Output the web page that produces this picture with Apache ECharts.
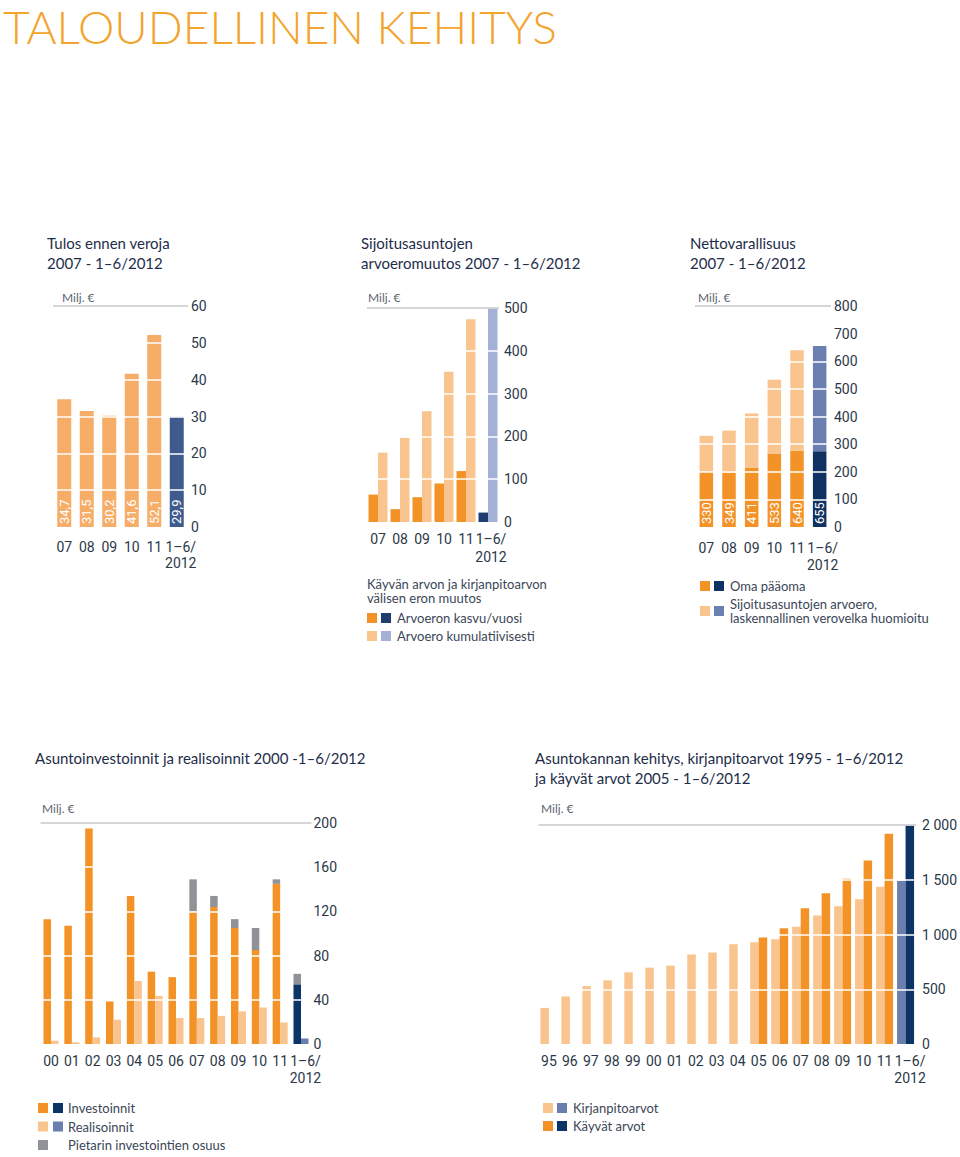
<!DOCTYPE html>
<html><head><meta charset="utf-8">
<script src="https://cdn.jsdelivr.net/npm/echarts@6/dist/echarts.min.js"></script>
<style>html,body{margin:0;padding:0;background:#fff}#c{width:960px;height:1157px}</style>
</head><body><div id="c"></div>
<script>
// ---------- DATA ----------
const cats6 = ['07','08','09','10','11','1–6/\n2012'];
const tulos = [34.7, 31.5, 30.2, 41.6, 52.1, 29.9];
const arvoeroKasvu = [64, 30, 58, 90, 119, 22];
const arvoeroKum = [162, 197, 259, 351, 474, 498];
const omaPaaoma = [200, 197, 214, 266, 276, 274];
const sijoitusArvoero = [130, 152, 197, 267, 364, 381];
const nettoLabels = ['330','349','411','533','640','655'];
const cats13 = ['00','01','02','03','04','05','06','07','08','09','10','11','1–6/\n2012'];
const investoinnit = [113, 107, 195, 38.5, 134, 65.5, 60.5, 120, 124, 105, 85, 145, 54];
const pietari = [null, null, null, null, null, null, null, 29, 10, 8, 20, 4, 9.5];
const realisoinnit = [3, 1.5, 6, 22, 57, 43.5, 23.5, 23.5, 25.5, 29.5, 33, 19.5, 5];
const cats18 = ['95','96','97','98','99','00','01','02','03','04','05','06','07','08','09','10','11','1–6/\n2012'];
const kirjanpito = [330, 434, 529, 581, 654, 697, 716, 817, 835, 911, 930, 957, 1070, 1174, 1257, 1321, 1437, 1492];
const kayvat = [null, null, null, null, null, null, null, null, null, null, 972, 1058, 1239, 1376, 1508, 1676, 1920, 1994];

// ---------- STYLE ----------
const ORANGE = '#f39226', LIGHT = '#f9c48e', NAVY = '#0d3466', BLUE = '#6a7fae', GREY = '#8f9398';
const TXT = '#2b3848';
const FONT = 'Roboto';
const AXFS = 14;
const HFONT = 'Lato';

function lastColored(arr, color) {
  return arr.map((v, i) => i === arr.length - 1 ? {value: v, itemStyle: {color}} : v);
}
function splitColors(n) {
  const c = ['rgba(0,0,0,0)'];
  for (let i = 1; i < n - 1; i++) c.push('#ffffff');
  c.push('#c9c9c9');
  return c;
}
function yAx(idx, max, interval, margin, fmt) {
  return {
    gridIndex: idx, type: 'value', position: 'right', min: 0, max, interval, z: 5,
    axisLine: {show: false}, axisTick: {show: false},
    axisLabel: {margin, color: TXT, fontSize: AXFS, fontFamily: FONT, formatter: fmt},
    splitLine: {show: true, lineStyle: {color: splitColors(max / interval + 1), width: 1.5}}
  };
}
function xAx(idx, cats, margin, lh, shift) {
  const data = cats.map((c, i) => i === cats.length - 1 ? {value: c, textStyle: {padding: [0, 0, 0, shift]}} : c);
  return {
    gridIndex: idx, type: 'category', data,
    axisLine: {show: false}, axisTick: {show: false},
    axisLabel: {interval: 0, margin, color: TXT, fontSize: AXFS, fontFamily: FONT, lineHeight: lh}
  };
}
function legend(data, left, top, gap, lh, extra) {
  return Object.assign({
    data, left, top, orient: 'vertical', itemWidth: 10, itemHeight: 10, itemGap: gap, padding: 0,
    icon: 'rect', selectedMode: false,
    textStyle: {color: '#3a4656', fontSize: 13, fontFamily: HFONT, lineHeight: lh, padding: [0, 0, 0, 15]}
  }, extra || {});
}
function hText(x, y, text, size, color, lh) {
  return {type: 'text', left: x, top: y, style: {text, fill: color, font: size + 'px ' + HFONT, lineHeight: lh || size + 2}};
}
function sq(x, y, color) {
  return {type: 'rect', left: x, top: y, shape: {width: 10, height: 10}, style: {fill: color}};
}

const hStyle = {color: '#1e2d4a', fontSize: 15, fontFamily: HFONT, fontWeight: 'normal', lineHeight: 20};

const chart = echarts.init(document.getElementById('c'), null, {renderer: 'svg'});
chart.setOption({
  animation: false,
  backgroundColor: '#fff',
  title: [
    {text: 'TALOUDELLINEN KEHITYS', left: 3, top: 0, padding: 0, textStyle: {color: '#f3a42c', fontSize: 46, lineHeight: 52, fontFamily: HFONT, fontWeight: 300}},
    {text: 'Tulos ennen veroja\n2007 - 1–6/2012', left: 47, top: 233, padding: 0, textStyle: hStyle},
    {text: 'Sijoitusasuntojen\narvoeromuutos 2007 - 1–6/2012', left: 361, top: 233, padding: 0, textStyle: hStyle},
    {text: 'Nettovarallisuus\n2007 - 1–6/2012', left: 690, top: 233, padding: 0, textStyle: hStyle},
    {text: 'Asuntoinvestoinnit ja realisoinnit 2000 -1–6/2012', left: 35, top: 748, padding: 0, textStyle: hStyle},
    {text: 'Asuntokannan kehitys, kirjanpitoarvot 1995 - 1–6/2012\nja käyvät arvot 2005 - 1–6/2012', left: 535, top: 748, padding: 0, textStyle: hStyle}
  ],
  grid: [
    {left: 53, top: 306, width: 135, height: 221},
    {left: 367, top: 308, width: 132, height: 214},
    {left: 695, top: 306, width: 136, height: 221},
    {left: 40.6, top: 823, width: 270.8, height: 221},
    {left: 538.4, top: 825, width: 381.2, height: 219}
  ],
  xAxis: [
    xAx(0, cats6, 12, 16, 8),
    xAx(1, cats6, 8, 18, 6),
    xAx(2, cats6, 12, 17, 6),
    xAx(3, cats13, 8, 17, 9),
    xAx(4, cats18, 8, 17, 9)
  ],
  yAxis: [
    yAx(0, 60, 10, 3),
    yAx(1, 500, 100, 5),
    yAx(2, 800, 100, 3),
    yAx(3, 200, 40, 2),
    yAx(4, 2000, 500, 6, v => v >= 1000 ? String(v).replace(/(\d)(\d{3})$/, '$1 $2') : String(v))
  ],
  legend: [
    legend(['Arvoeron kasvu/vuosi', 'Arvoero kumulatiivisesti'], 367, 611, 4, 14),
    legend(['Oma pääoma', 'Sijoitusasuntojen arvoero,\nlaskennallinen verovelka huomioitu'], 700, 579, 4, 14),
    legend(['Investoinnit', 'Realisoinnit', 'Pietarin investointien osuus'], 38, 1101, 4.5, 14, {height: 60}),
    legend(['Kirjanpitoarvot', 'Käyvät arvot'], 543, 1101, 4, 14)
  ],
  graphic: [
    hText(62, 290, 'Milj. €', 12, '#5d6673'),
    hText(368, 290, 'Milj. €', 12, '#5d6673'),
    hText(698, 290, 'Milj. €', 12, '#5d6673'),
    hText(42, 801, 'Milj. €', 12, '#5d6673'),
    hText(541, 801, 'Milj. €', 12, '#5d6673'),
    hText(367, 577, 'Käyvän arvon ja kirjanpitoarvon\nvälisen eron muutos', 13, '#3a4656', 14),
    sq(381, 613, '#1f3d6e'), sq(381, 631, '#a3b1d5'),
    sq(714, 581, '#0f3263'), sq(714, 606, '#6b80b0'),
    sq(53, 1103, NAVY), sq(53, 1121.5, BLUE),
    sq(557, 1103, BLUE), sq(557, 1121, NAVY)
  ],
  series: [
    {name: 'Tulos ennen veroja', type: 'bar', xAxisIndex: 0, yAxisIndex: 0, barWidth: 14,
     itemStyle: {color: '#f6ad68'}, data: lastColored(tulos, '#3f5b8d'),
     label: {show: true, position: 'insideBottom', rotate: 90, align: 'left', verticalAlign: 'middle', distance: 3,
             color: '#fff', fontSize: 13, fontFamily: FONT, formatter: p => String(p.value).replace('.', ',')}},
    {name: 'Arvoeron kasvu/vuosi', type: 'bar', xAxisIndex: 1, yAxisIndex: 1, barWidth: 9.5, barGap: '0%',
     itemStyle: {color: ORANGE}, data: lastColored(arvoeroKasvu, '#1f3d6e')},
    {name: 'Arvoero kumulatiivisesti', type: 'bar', xAxisIndex: 1, yAxisIndex: 1, barWidth: 9.5, barGap: '0%',
     itemStyle: {color: LIGHT}, data: lastColored(arvoeroKum, '#a3b1d5')},
    {name: 'Oma pääoma', type: 'bar', stack: 'n', xAxisIndex: 2, yAxisIndex: 2, barWidth: 13.5,
     itemStyle: {color: ORANGE}, data: lastColored(omaPaaoma, '#0f3263'),
     label: {show: true, position: 'insideBottom', rotate: 90, align: 'left', verticalAlign: 'middle', distance: 3,
             color: '#fff', fontSize: 13, fontFamily: FONT, formatter: p => nettoLabels[p.dataIndex]}},
    {name: 'Sijoitusasuntojen arvoero,\nlaskennallinen verovelka huomioitu', type: 'bar', stack: 'n', xAxisIndex: 2, yAxisIndex: 2, barWidth: 13.5,
     itemStyle: {color: LIGHT}, data: lastColored(sijoitusArvoero, '#6b80b0')},
    {name: 'Investoinnit', type: 'bar', stack: 'i', xAxisIndex: 3, yAxisIndex: 3, barWidth: 7.5, barGap: '0%',
     itemStyle: {color: ORANGE}, data: lastColored(investoinnit, NAVY)},
    {name: 'Pietarin investointien osuus', type: 'bar', stack: 'i', xAxisIndex: 3, yAxisIndex: 3, barWidth: 7.5, barGap: '0%',
     itemStyle: {color: GREY}, data: pietari},
    {name: 'Realisoinnit', type: 'bar', stack: 'r', xAxisIndex: 3, yAxisIndex: 3, barWidth: 7.5, barGap: '0%',
     itemStyle: {color: LIGHT}, data: lastColored(realisoinnit, BLUE)},
    {name: 'Kirjanpitoarvot', type: 'bar', xAxisIndex: 4, yAxisIndex: 4, barWidth: 8.5, barGap: '0%',
     itemStyle: {color: LIGHT}, data: lastColored(kirjanpito, BLUE)},
    {name: 'Käyvät arvot', type: 'bar', xAxisIndex: 4, yAxisIndex: 4, barWidth: 8.5, barGap: '0%',
     itemStyle: {color: ORANGE}, data: lastColored(kayvat, NAVY)}
  ]
});
</script></body></html>
